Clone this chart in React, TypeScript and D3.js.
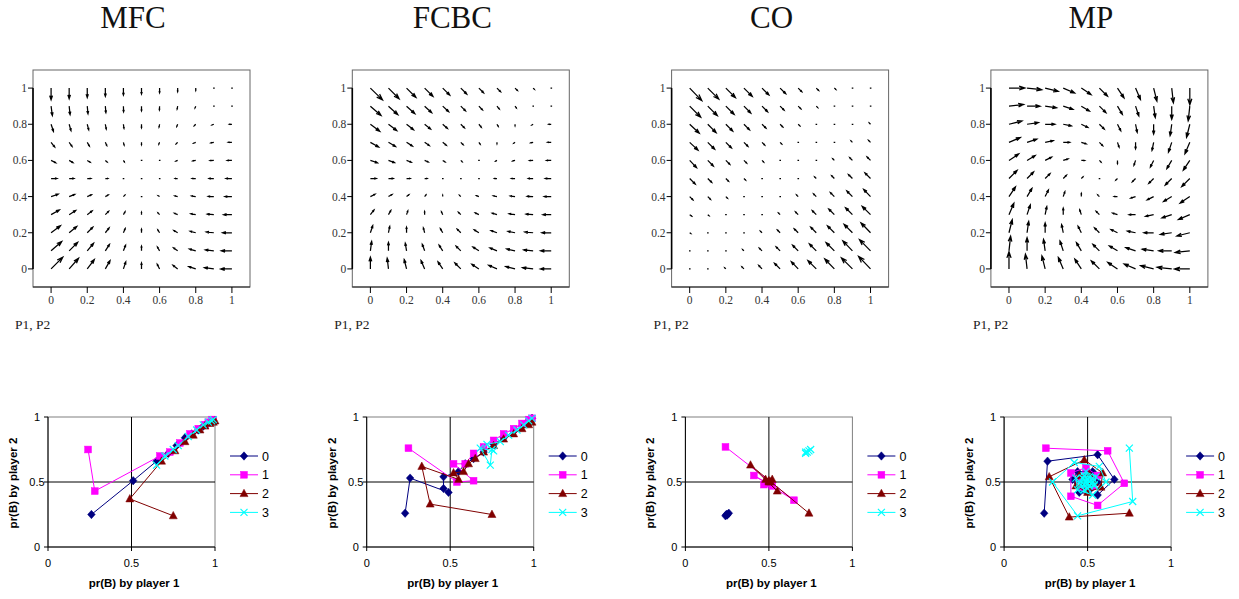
import React from 'react';
import * as d3 from 'd3';

// ---------- data ----------
const PANEL_TITLES = ['MFC', 'FCBC', 'CO', 'MP'];
const GRID_VALUES = [0, 0.1, 0.2, 0.3, 0.4, 0.5, 0.6, 0.7, 0.8, 0.9, 1];
const FIELD_TICKS = [0, 0.2, 0.4, 0.6, 0.8, 1];
const FIELD_TICK_LABELS = ['0', '0.2', '0.4', '0.6', '0.8', '1'];
const FIELD_AXIS_LABEL = 'P1, P2';
const TRAJ_TICKS = [0, 0.5, 1];
const TRAJ_TICK_LABELS = ['0', '0.5', '1'];
const TRAJ_X_TITLE = 'pr(B) by player 1';
const TRAJ_Y_TITLE = 'pr(B) by player 2';
const SERIES_NAMES = ['0', '1', '2', '3'];
const SERIES_COLORS = ['#000080', '#FF00FF', '#800000', '#00FFFF'];

// vector fields: rows from y=1 (top) to y=0, columns x=0..1; units of 0.001
const MFC_DX = [
  [0, 0, 0, 0, 0, 0, 0, 0, 0, 0, 0],
  [7, 5, 4, 3, 1, 0, -1, -3, -4, -5, -7],
  [13, 10, 8, 5, 3, 0, -3, -5, -8, -10, -13],
  [20, 16, 12, 8, 4, 0, -4, -8, -12, -16, -20],
  [26, 21, 16, 10, 5, 0, -5, -10, -16, -21, -26],
  [33, 26, 20, 13, 7, 0, -7, -13, -20, -26, -33],
  [39, 31, 23, 16, 8, 0, -8, -16, -23, -31, -39],
  [46, 36, 27, 18, 9, 0, -9, -18, -27, -36, -46],
  [52, 42, 31, 21, 10, 0, -10, -21, -31, -42, -52],
  [59, 47, 35, 23, 12, 0, -12, -23, -35, -47, -59],
  [65, 52, 39, 26, 13, 0, -13, -26, -39, -52, -62],
];
const MFC_DY = [
  [-65, -59, -52, -46, -39, -33, -26, -20, -13, -7, 0],
  [-52, -47, -42, -36, -31, -26, -21, -16, -10, -5, 0],
  [-39, -35, -31, -27, -23, -20, -16, -12, -8, -4, 0],
  [-26, -23, -21, -18, -16, -13, -10, -8, -5, -3, 0],
  [-13, -12, -10, -9, -8, -7, -5, -4, -3, -1, 0],
  [0, 0, 0, 0, 0, 0, 0, 0, 0, 0, 0],
  [13, 12, 10, 9, 8, 7, 5, 4, 3, 1, 0],
  [26, 23, 21, 18, 16, 13, 10, 8, 5, 3, 0],
  [39, 35, 31, 27, 23, 20, 16, 12, 8, 4, 0],
  [52, 47, 42, 36, 31, 26, 21, 16, 10, 5, 0],
  [65, 59, 52, 46, 39, 33, 26, 20, 13, 7, 0],
];
const FCBC_DX = [
  [67, 59, 52, 46, 39, 33, 26, 20, 13, 7, 0],
  [59, 52, 46, 39, 33, 26, 20, 13, 7, 0, -7],
  [52, 46, 39, 33, 26, 20, 13, 7, 0, -7, -13],
  [46, 39, 33, 26, 20, 13, 7, 0, -7, -13, -20],
  [39, 33, 26, 20, 13, 7, 0, -7, -13, -20, -26],
  [33, 26, 20, 13, 7, 0, -7, -13, -20, -26, -33],
  [26, 20, 13, 7, 0, -7, -13, -20, -26, -33, -39],
  [20, 13, 7, 0, -7, -13, -20, -26, -33, -39, -46],
  [13, 7, 0, -7, -13, -20, -26, -33, -39, -46, -52],
  [7, 0, -7, -13, -20, -26, -33, -39, -46, -52, -59],
  [0, -7, -13, -20, -26, -33, -39, -46, -52, -59, -60],
];
const FCBC_DY = [
  [-65, -59, -52, -46, -39, -33, -26, -20, -13, -7, 0],
  [-52, -47, -42, -36, -31, -26, -21, -16, -10, -5, 0],
  [-39, -35, -31, -27, -23, -20, -16, -12, -8, -4, 0],
  [-26, -23, -21, -18, -16, -13, -10, -8, -5, -3, 0],
  [-13, -12, -10, -9, -8, -7, -5, -4, -3, -1, 0],
  [0, 0, 0, 0, 0, 0, 0, 0, 0, 0, 0],
  [13, 12, 10, 9, 8, 7, 5, 4, 3, 1, 0],
  [26, 23, 21, 18, 16, 13, 10, 8, 5, 3, 0],
  [39, 35, 31, 27, 23, 20, 16, 12, 8, 4, 0],
  [52, 47, 42, 36, 31, 26, 21, 16, 10, 5, 0],
  [65, 59, 52, 46, 39, 33, 26, 20, 13, 7, 0],
];
const CO_DX = [
  [67, 61, 53, 46, 38, 31, 20, 13, 8, 4, 0],
  [61, 53, 46, 38, 31, 22, 15, 8, 4, 0, -4],
  [53, 46, 38, 31, 22, 15, 9, 4, 0, -4, -7],
  [46, 38, 31, 22, 15, 9, 4, 0, -4, -8, -11],
  [38, 31, 22, 15, 9, 4, 0, -4, -9, -15, -19],
  [31, 22, 15, 9, 4, 0, -4, -9, -15, -22, -31],
  [18, 15, 9, 4, 0, -4, -9, -15, -22, -31, -38],
  [11, 7, 4, 0, -4, -9, -15, -22, -31, -38, -46],
  [6, 3, 0, -4, -9, -15, -22, -31, -38, -46, -53],
  [3, 0, -3, -7, -15, -22, -31, -38, -46, -53, -61],
  [0, -3, -6, -11, -18, -31, -38, -46, -53, -61, -66],
];
const CO_DY = [
  [-69, -61, -53, -46, -38, -31, -20, -13, -7, -3, 0],
  [-61, -53, -46, -38, -31, -22, -15, -8, -4, 0, 4],
  [-50, -46, -38, -31, -22, -15, -9, -4, 0, 4, 7],
  [-43, -38, -31, -22, -15, -9, -4, 0, 4, 8, 11],
  [-40, -31, -22, -15, -9, -4, 0, 4, 9, 15, 19],
  [-31, -22, -15, -9, -4, 0, 4, 9, 15, 22, 31],
  [-18, -15, -9, -4, 0, 4, 9, 15, 22, 31, 40],
  [-8, -6, -4, 0, 4, 9, 15, 22, 31, 38, 46],
  [-4, -2, 0, 4, 9, 15, 22, 31, 38, 46, 55],
  [-2, 0, 3, 7, 15, 22, 31, 38, 46, 55, 62],
  [0, 3, 6, 11, 19, 31, 40, 46, 55, 61, 69],
];
const MP_DX = [
  [88, 81, 72, 63, 54, 45, 36, 27, 18, 9, 0],
  [81, 72, 63, 54, 45, 36, 27, 18, 9, 0, -9],
  [72, 63, 54, 45, 36, 27, 18, 9, 0, -9, -18],
  [63, 54, 45, 36, 27, 18, 9, 0, -9, -18, -27],
  [54, 45, 36, 27, 18, 9, 0, -9, -18, -27, -36],
  [45, 36, 27, 18, 9, 0, -9, -18, -27, -36, -45],
  [36, 27, 18, 9, 0, -9, -18, -27, -36, -45, -54],
  [27, 18, 9, 0, -9, -18, -27, -36, -45, -54, -63],
  [18, 9, 0, -9, -18, -27, -36, -45, -54, -63, -72],
  [9, 0, -9, -18, -27, -36, -45, -54, -63, -72, -81],
  [0, -9, -18, -27, -36, -45, -54, -63, -72, -81, -85],
];
const MP_DY = [
  [0, -9, -18, -27, -36, -45, -54, -63, -72, -81, -92],
  [9, 0, -9, -18, -27, -36, -45, -54, -63, -72, -81],
  [18, 9, 0, -9, -18, -27, -36, -45, -54, -63, -72],
  [27, 18, 9, 0, -9, -18, -27, -36, -45, -54, -63],
  [36, 27, 18, 9, 0, -9, -18, -27, -36, -45, -54],
  [45, 36, 27, 18, 9, 0, -9, -18, -27, -36, -45],
  [54, 45, 36, 27, 18, 9, 0, -9, -18, -27, -36],
  [63, 54, 45, 36, 27, 18, 9, 0, -9, -18, -27],
  [72, 63, 54, 45, 36, 27, 18, 9, 0, -9, -18],
  [81, 72, 63, 54, 45, 36, 27, 18, 9, 0, -9],
  [95, 81, 72, 63, 54, 45, 36, 27, 18, 9, 0],
];

// trajectories [pr(B) player 1, pr(B) player 2]
const MFC_S0 = [[0.26, 0.25], [0.51, 0.51], [0.65, 0.66], [0.72, 0.72], [0.77, 0.78], [0.82, 0.84], [0.86, 0.87], [0.9, 0.9], [0.93, 0.93], [0.95, 0.95], [0.97, 0.96], [0.98, 0.97], [0.99, 0.97]];
const MFC_S1 = [[0.24, 0.75], [0.28, 0.43], [0.67, 0.7], [0.73, 0.73], [0.79, 0.8], [0.85, 0.87], [0.9, 0.91], [0.94, 0.94], [0.96, 0.96], [0.98, 0.98], [0.99, 0.98]];
const MFC_S2 = [[0.75, 0.24], [0.49, 0.37], [0.68, 0.66], [0.76, 0.74], [0.82, 0.81], [0.87, 0.86], [0.91, 0.9], [0.94, 0.93], [0.97, 0.95], [0.99, 0.96], [1.0, 0.97]];
const MFC_S3 = [[0.75, 0.75], [0.65, 0.63], [0.7, 0.7], [0.78, 0.78], [0.84, 0.85], [0.89, 0.9], [0.93, 0.94], [0.96, 0.96], [0.98, 0.97], [0.99, 0.98]];

const FCBC_S0 = [[0.23, 0.26], [0.26, 0.53], [0.49, 0.42], [0.46, 0.45], [0.46, 0.54], [0.55, 0.58], [0.59, 0.64], [0.64, 0.68], [0.7, 0.73], [0.76, 0.79], [0.82, 0.84], [0.88, 0.89], [0.93, 0.93], [0.96, 0.96], [0.98, 0.98], [0.99, 0.99]];
const FCBC_S1 = [[0.25, 0.76], [0.54, 0.5], [0.64, 0.51], [0.52, 0.64], [0.59, 0.64], [0.64, 0.72], [0.7, 0.77], [0.76, 0.82], [0.82, 0.87], [0.88, 0.91], [0.93, 0.95], [0.97, 0.98], [0.99, 0.99]];
const FCBC_S2 = [[0.75, 0.25], [0.38, 0.33], [0.33, 0.62], [0.55, 0.52], [0.52, 0.57], [0.58, 0.58], [0.61, 0.64], [0.65, 0.68], [0.7, 0.73], [0.76, 0.78], [0.82, 0.83], [0.88, 0.87], [0.93, 0.91], [0.97, 0.94], [0.99, 0.96]];
const FCBC_S3 = [[0.75, 0.75], [0.74, 0.63], [0.68, 0.76], [0.76, 0.74], [0.72, 0.79], [0.8, 0.81], [0.85, 0.86], [0.9, 0.9], [0.94, 0.94], [0.97, 0.97], [0.99, 0.99]];

const CO_S0 = [[0.24, 0.24], [0.25, 0.25], [0.245, 0.25], [0.25, 0.245], [0.26, 0.26]];
const CO_S1 = [[0.24, 0.77], [0.65, 0.36], [0.41, 0.55], [0.52, 0.47], [0.47, 0.48], [0.5, 0.5], [0.49, 0.5], [0.5, 0.49]];
const CO_S2 = [[0.74, 0.26], [0.39, 0.63], [0.55, 0.43], [0.48, 0.52], [0.52, 0.52], [0.5, 0.5], [0.51, 0.5], [0.5, 0.51]];
const CO_S3 = [[0.72, 0.72], [0.75, 0.75], [0.73, 0.73], [0.74, 0.74], [0.72, 0.73]];

const MP_S0 = [[0.24, 0.26], [0.26, 0.66], [0.56, 0.71], [0.66, 0.52], [0.56, 0.4], [0.45, 0.42], [0.41, 0.52], [0.44, 0.58], [0.53, 0.58], [0.56, 0.5], [0.52, 0.45], [0.47, 0.46], [0.46, 0.51], [0.49, 0.53], [0.52, 0.51], [0.5, 0.48], [0.48, 0.49], [0.49, 0.51], [0.5, 0.5]];
const MP_S1 = [[0.25, 0.76], [0.62, 0.74], [0.72, 0.49], [0.56, 0.32], [0.4, 0.39], [0.4, 0.57], [0.49, 0.61], [0.56, 0.55], [0.53, 0.47], [0.47, 0.46], [0.45, 0.52], [0.49, 0.55], [0.52, 0.52], [0.51, 0.48], [0.48, 0.49], [0.49, 0.51], [0.5, 0.5]];
const MP_S2 = [[0.75, 0.26], [0.39, 0.23], [0.27, 0.54], [0.48, 0.67], [0.59, 0.57], [0.58, 0.46], [0.5, 0.42], [0.43, 0.47], [0.45, 0.55], [0.51, 0.56], [0.54, 0.5], [0.5, 0.46], [0.47, 0.49], [0.49, 0.52], [0.51, 0.5], [0.5, 0.49], [0.49, 0.5]];
const MP_S3 = [[0.75, 0.76], [0.77, 0.35], [0.44, 0.24], [0.29, 0.5], [0.42, 0.65], [0.57, 0.62], [0.61, 0.5], [0.53, 0.4], [0.44, 0.44], [0.43, 0.53], [0.49, 0.58], [0.55, 0.54], [0.54, 0.47], [0.48, 0.44], [0.45, 0.49], [0.48, 0.55], [0.53, 0.53], [0.54, 0.48], [0.5, 0.45], [0.46, 0.48], [0.47, 0.53], [0.51, 0.54], [0.53, 0.5], [0.51, 0.47], [0.48, 0.48], [0.48, 0.52], [0.5, 0.52], [0.51, 0.5], [0.5, 0.49], [0.49, 0.5]];

const FIELDS = [
  [MFC_DX, MFC_DY],
  [FCBC_DX, FCBC_DY],
  [CO_DX, CO_DY],
  [MP_DX, MP_DY],
];
const TRAJECTORIES = [
  [MFC_S0, MFC_S1, MFC_S2, MFC_S3],
  [FCBC_S0, FCBC_S1, FCBC_S2, FCBC_S3],
  [CO_S0, CO_S1, CO_S2, CO_S3],
  [MP_S0, MP_S1, MP_S2, MP_S3],
];

// ---------- drawing ----------
const SERIF = '"Liberation Serif", "Times New Roman", serif';
const SANS = '"Liberation Sans", Arial, sans-serif';

function arrowPath(x0: number, y0: number, x1: number, y1: number) {
  const u = x1 - x0;
  const v = y1 - y0;
  const L = Math.hypot(u, v);
  if (L < 1.3) {
    return `M${x0 - 0.7},${y0}L${x0 + 0.9},${y0}`;
  }
  const a = 0.36;
  const b = 0.34;
  const hx1 = x1 - a * (u + b * v);
  const hy1 = y1 - a * (v - b * u);
  const hx2 = x1 - a * (u - b * v);
  const hy2 = y1 - a * (v + b * u);
  return `M${x0},${y0}L${x1},${y1}M${hx1},${hy1}L${x1},${y1}L${hx2},${hy2}`;
}

function FieldPanel({ idx }: { idx: number }) {
  const left = 33 + idx * 319.3;
  const x = d3.scaleLinear().domain([-0.1, 1.1]).range([left, left + 217]);
  const y = d3.scaleLinear().domain([-0.1, 1.1]).range([287, 70]);
  const [DX, DY] = FIELDS[idx];
  const paths: string[] = [];
  DX.forEach((row, r) => {
    row.forEach((vx, c) => {
      const gx = GRID_VALUES[c];
      const gy = GRID_VALUES[10 - r];
      const vy = DY[r][c];
      paths.push(arrowPath(x(gx), y(gy), x(gx + vx / 1000), y(gy + vy / 1000)));
    });
  });
  return (
    <g>
      <text x={left + 100} y={28} textAnchor="middle" fontFamily={SERIF} fontSize={31} fill="#111">
        {PANEL_TITLES[idx]}
      </text>
      <rect x={x(-0.1)} y={y(1.1)} width={x(1.1) - x(-0.1)} height={y(-0.1) - y(1.1)} fill="none" stroke="#666" strokeWidth={1} />
      <line x1={x(-0.1)} x2={x(-0.1)} y1={y(1)} y2={y(0)} stroke="#000" strokeWidth={1.6} />
      <line x1={x(-0.1)} x2={x(1.1)} y1={y(-0.1)} y2={y(-0.1)} stroke="#222" strokeWidth={1.2} />
      {FIELD_TICKS.map((t, i) => (
        <g key={'yt' + i}>
          <line x1={x(-0.1) - 5} x2={x(-0.1)} y1={y(t)} y2={y(t)} stroke="#000" strokeWidth={1} />
          <text x={x(-0.1) - 6} y={y(t) + 4} textAnchor="end" fontFamily={SERIF} fontSize={11.5} fill="#333">
            {FIELD_TICK_LABELS[i]}
          </text>
        </g>
      ))}
      {FIELD_TICKS.map((t, i) => (
        <g key={'xt' + i}>
          <line x1={x(t)} x2={x(t)} y1={y(-0.1)} y2={y(-0.1) + 6} stroke="#000" strokeWidth={1} />
          <text x={x(t)} y={304} textAnchor="middle" fontFamily={SERIF} fontSize={11.5} fill="#333">
            {FIELD_TICK_LABELS[i]}
          </text>
        </g>
      ))}
      <text x={left - 18} y={329} fontFamily={SERIF} fontSize={13.5} fill="#222">
        {FIELD_AXIS_LABEL}
      </text>
      <path d={paths.join('')} fill="none" stroke="#000" strokeWidth={1.25} strokeLinecap="butt" strokeLinejoin="miter" />
    </g>
  );
}

function Marker({ k, cx, cy }: { k: number; cx: number; cy: number }) {
  const col = SERIES_COLORS[k];
  if (k === 0) {
    return <path d={`M${cx},${cy - 4.2}L${cx + 3.8},${cy}L${cx},${cy + 4.2}L${cx - 3.8},${cy}Z`} fill={col} stroke={col} strokeWidth={0.5} />;
  }
  if (k === 1) {
    return <rect x={cx - 3.4} y={cy - 3.4} width={6.8} height={6.8} fill={col} stroke={col} strokeWidth={0.5} />;
  }
  if (k === 2) {
    return <path d={`M${cx},${cy - 4.4}L${cx + 4},${cy + 3}L${cx - 4},${cy + 3}Z`} fill={col} stroke={col} strokeWidth={0.5} />;
  }
  return <path d={`M${cx - 3.5},${cy - 3.5}L${cx + 3.5},${cy + 3.5}M${cx - 3.5},${cy + 3.5}L${cx + 3.5},${cy - 3.5}`} stroke={col} strokeWidth={1.2} fill="none" />;
}

function TrajPanel({ idx }: { idx: number }) {
  const left = 48 + idx * 318.7;
  const x = d3.scaleLinear().domain([0, 1]).range([left, left + 167]);
  const y = d3.scaleLinear().domain([0, 1]).range([547, 417]);
  const line = d3.line<number[]>().x((d) => x(d[0])).y((d) => y(d[1]));
  const series = TRAJECTORIES[idx];
  const legX = left + 182;
  return (
    <g>
      <rect x={x(0)} y={y(1)} width={x(1) - x(0)} height={y(0) - y(1)} fill="#fff" stroke="#808080" strokeWidth={1} />
      <line x1={x(0.5)} x2={x(0.5)} y1={y(0)} y2={y(1)} stroke="#000" strokeWidth={1} />
      <line x1={x(0)} x2={x(1)} y1={y(0.5)} y2={y(0.5)} stroke="#000" strokeWidth={1} />
      <line x1={x(0)} x2={x(0)} y1={y(0)} y2={y(1)} stroke="#000" strokeWidth={1} />
      <line x1={x(0)} x2={x(1)} y1={y(0)} y2={y(0)} stroke="#000" strokeWidth={1} />
      {TRAJ_TICKS.map((t, i) => (
        <g key={'t' + i}>
          <line x1={x(0) - 4} x2={x(0)} y1={y(t)} y2={y(t)} stroke="#000" />
          <line x1={x(t)} x2={x(t)} y1={y(0)} y2={y(0) + 4} stroke="#000" />
          <text x={x(0) - 11} y={y(t) + 4} textAnchor="middle" fontFamily={SANS} fontSize={11} fill="#000">
            {TRAJ_TICK_LABELS[i]}
          </text>
          <text x={x(t)} y={567} textAnchor="middle" fontFamily={SANS} fontSize={11} fill="#000">
            {TRAJ_TICK_LABELS[i]}
          </text>
        </g>
      ))}
      <text x={left + 86} y={587} textAnchor="middle" fontFamily={SANS} fontSize={11.5} fontWeight="bold" fill="#000">
        {TRAJ_X_TITLE}
      </text>
      <text
        transform={`translate(${left - 31},${483}) rotate(-90)`}
        textAnchor="middle"
        fontFamily={SANS}
        fontSize={11.5}
        fontWeight="bold"
        fill="#000"
      >
        {TRAJ_Y_TITLE}
      </text>
      {series.map((s, k) => (
        <g key={'s' + k}>
          <path d={line(s) || ''} fill="none" stroke={SERIES_COLORS[k]} strokeWidth={1} />
          {s.map((p, j) => (
            <Marker key={j} k={k} cx={x(p[0])} cy={y(p[1])} />
          ))}
        </g>
      ))}
      {SERIES_NAMES.map((n, k) => {
        const ly = 456 + k * 18.8;
        return (
          <g key={'l' + k}>
            <line x1={legX} x2={legX + 28} y1={ly} y2={ly} stroke={SERIES_COLORS[k]} strokeWidth={1} />
            <Marker k={k} cx={legX + 14} cy={ly} />
            <text x={legX + 32} y={ly + 4.5} fontFamily={SANS} fontSize={12.5} fill="#000">
              {n}
            </text>
          </g>
        );
      })}
    </g>
  );
}

export default function App() {
  return (
    <svg
      width={1239}
      height={599}
      viewBox="0 0 1239 599"
      style={{ position: 'absolute', left: 0, top: 0, background: '#fff' }}
    >
      <rect x={0} y={0} width={1239} height={599} fill="#fff" />
      {PANEL_TITLES.map((_, i) => (
        <FieldPanel key={'f' + i} idx={i} />
      ))}
      {PANEL_TITLES.map((_, i) => (
        <TrajPanel key={'t' + i} idx={i} />
      ))}
    </svg>
  );
}
